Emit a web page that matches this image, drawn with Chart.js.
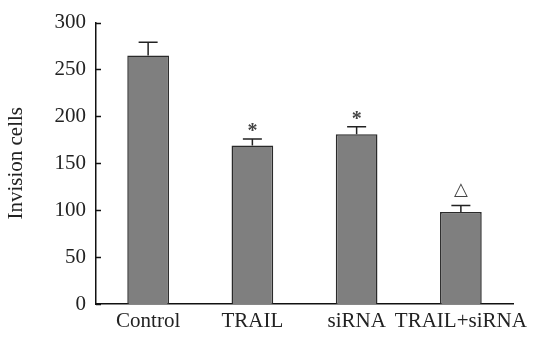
<!DOCTYPE html>
<html>
<head>
<meta charset="utf-8">
<script src="https://cdn.jsdelivr.net/npm/chart.js@4"></script>
<style>
html,body{margin:0;padding:0;background:#fff;}
#wrap{width:551px;height:342px;position:relative;}
</style>
</head>
<body>
<div id="wrap"><canvas id="c" width="551" height="342"></canvas></div>
<script>
const categories = ['Control', 'TRAIL', 'siRNA', 'TRAIL+siRNA'];
const values = [265, 169, 181, 98];
const errors = [14, 7, 8, 7];
const marks = ['', '*', '*', '\u25B3'];
const yTicks = [0, 50, 100, 150, 200, 250, 300];

const FONT = "'Liberation Serif', 'Times New Roman', serif";

const overlay = {
  id: 'overlay',
  afterDatasetsDraw(chart) {
    const ctx = chart.ctx;
    const x = chart.scales.x, y = chart.scales.y;
    const meta = chart.getDatasetMeta(0);
    ctx.save();
    // inward tick marks on y axis
    ctx.strokeStyle = '#111';
    ctx.lineWidth = 1.5;
    yTicks.forEach(v => {
      const py = Math.round(y.getPixelForValue(v)) + 0.5;
      ctx.beginPath();
      ctx.moveTo(x.left, py);
      ctx.lineTo(x.left + 5, py);
      ctx.stroke();
    });
    // error bars and marks
    values.forEach((v, i) => {
      const cx = meta.data[i].x;
      const yTop = y.getPixelForValue(v);
      const yErr = y.getPixelForValue(v + errors[i]);
      ctx.strokeStyle = '#222';
      ctx.lineWidth = 1.5;
      ctx.beginPath();
      ctx.moveTo(cx, yTop);
      ctx.lineTo(cx, yErr);
      ctx.moveTo(cx - 9.5, yErr);
      ctx.lineTo(cx + 9.5, yErr);
      ctx.stroke();
      if (marks[i]) {
        ctx.fillStyle = '#444';
        ctx.textAlign = 'center';
        ctx.textBaseline = 'bottom';
        if (marks[i] === '*') {
          ctx.font = "bold 20px " + FONT;
          ctx.fillText(marks[i], cx, yErr + 3);
        } else {
          ctx.font = "18px 'DejaVu Sans', sans-serif";
          ctx.fillText(marks[i], cx, yErr - 6);
        }
      }
    });
    ctx.restore();
  }
};

new Chart(document.getElementById('c'), {
  type: 'bar',
  data: {
    labels: categories,
    datasets: [{
      data: values,
      backgroundColor: '#7f7f7f',
      borderColor: '#2a2a2a',
      borderWidth: 1.5,
      barPercentage: 0.4,
      categoryPercentage: 1.0
    }]
  },
  options: {
    responsive: false,
    animation: false,
    devicePixelRatio: 1,
    layout: { padding: { left: 4, right: 38, top: 17, bottom: 0 } },
    plugins: { legend: { display: false }, tooltip: { enabled: false } },
    scales: {
      x: {
        offset: true,
        grid: { display: false, drawTicks: false },
        border: { display: true, color: '#111', width: 1.5 },
        ticks: { color: '#222', font: { family: FONT, size: 21 }, padding: 5, maxRotation: 0, autoSkip: false },
        afterFit(s) { s.height = 38; }
      },
      y: {
        min: 0, max: 300,
        grid: { display: false, drawTicks: false },
        border: { display: true, color: '#111', width: 1.5 },
        afterBuildTicks(s) { s.ticks = yTicks.map(v => ({ value: v })); },
        ticks: { color: '#222', font: { family: FONT, size: 21 }, padding: 10 },
        title: { display: true, text: 'Invision cells', color: '#222', font: { family: FONT, size: 21 }, padding: { top: 0, bottom: 2 } },
        afterFit(s) { s.width = 92; }
      }
    }
  },
  plugins: [overlay]
});
</script>
</body>
</html>
